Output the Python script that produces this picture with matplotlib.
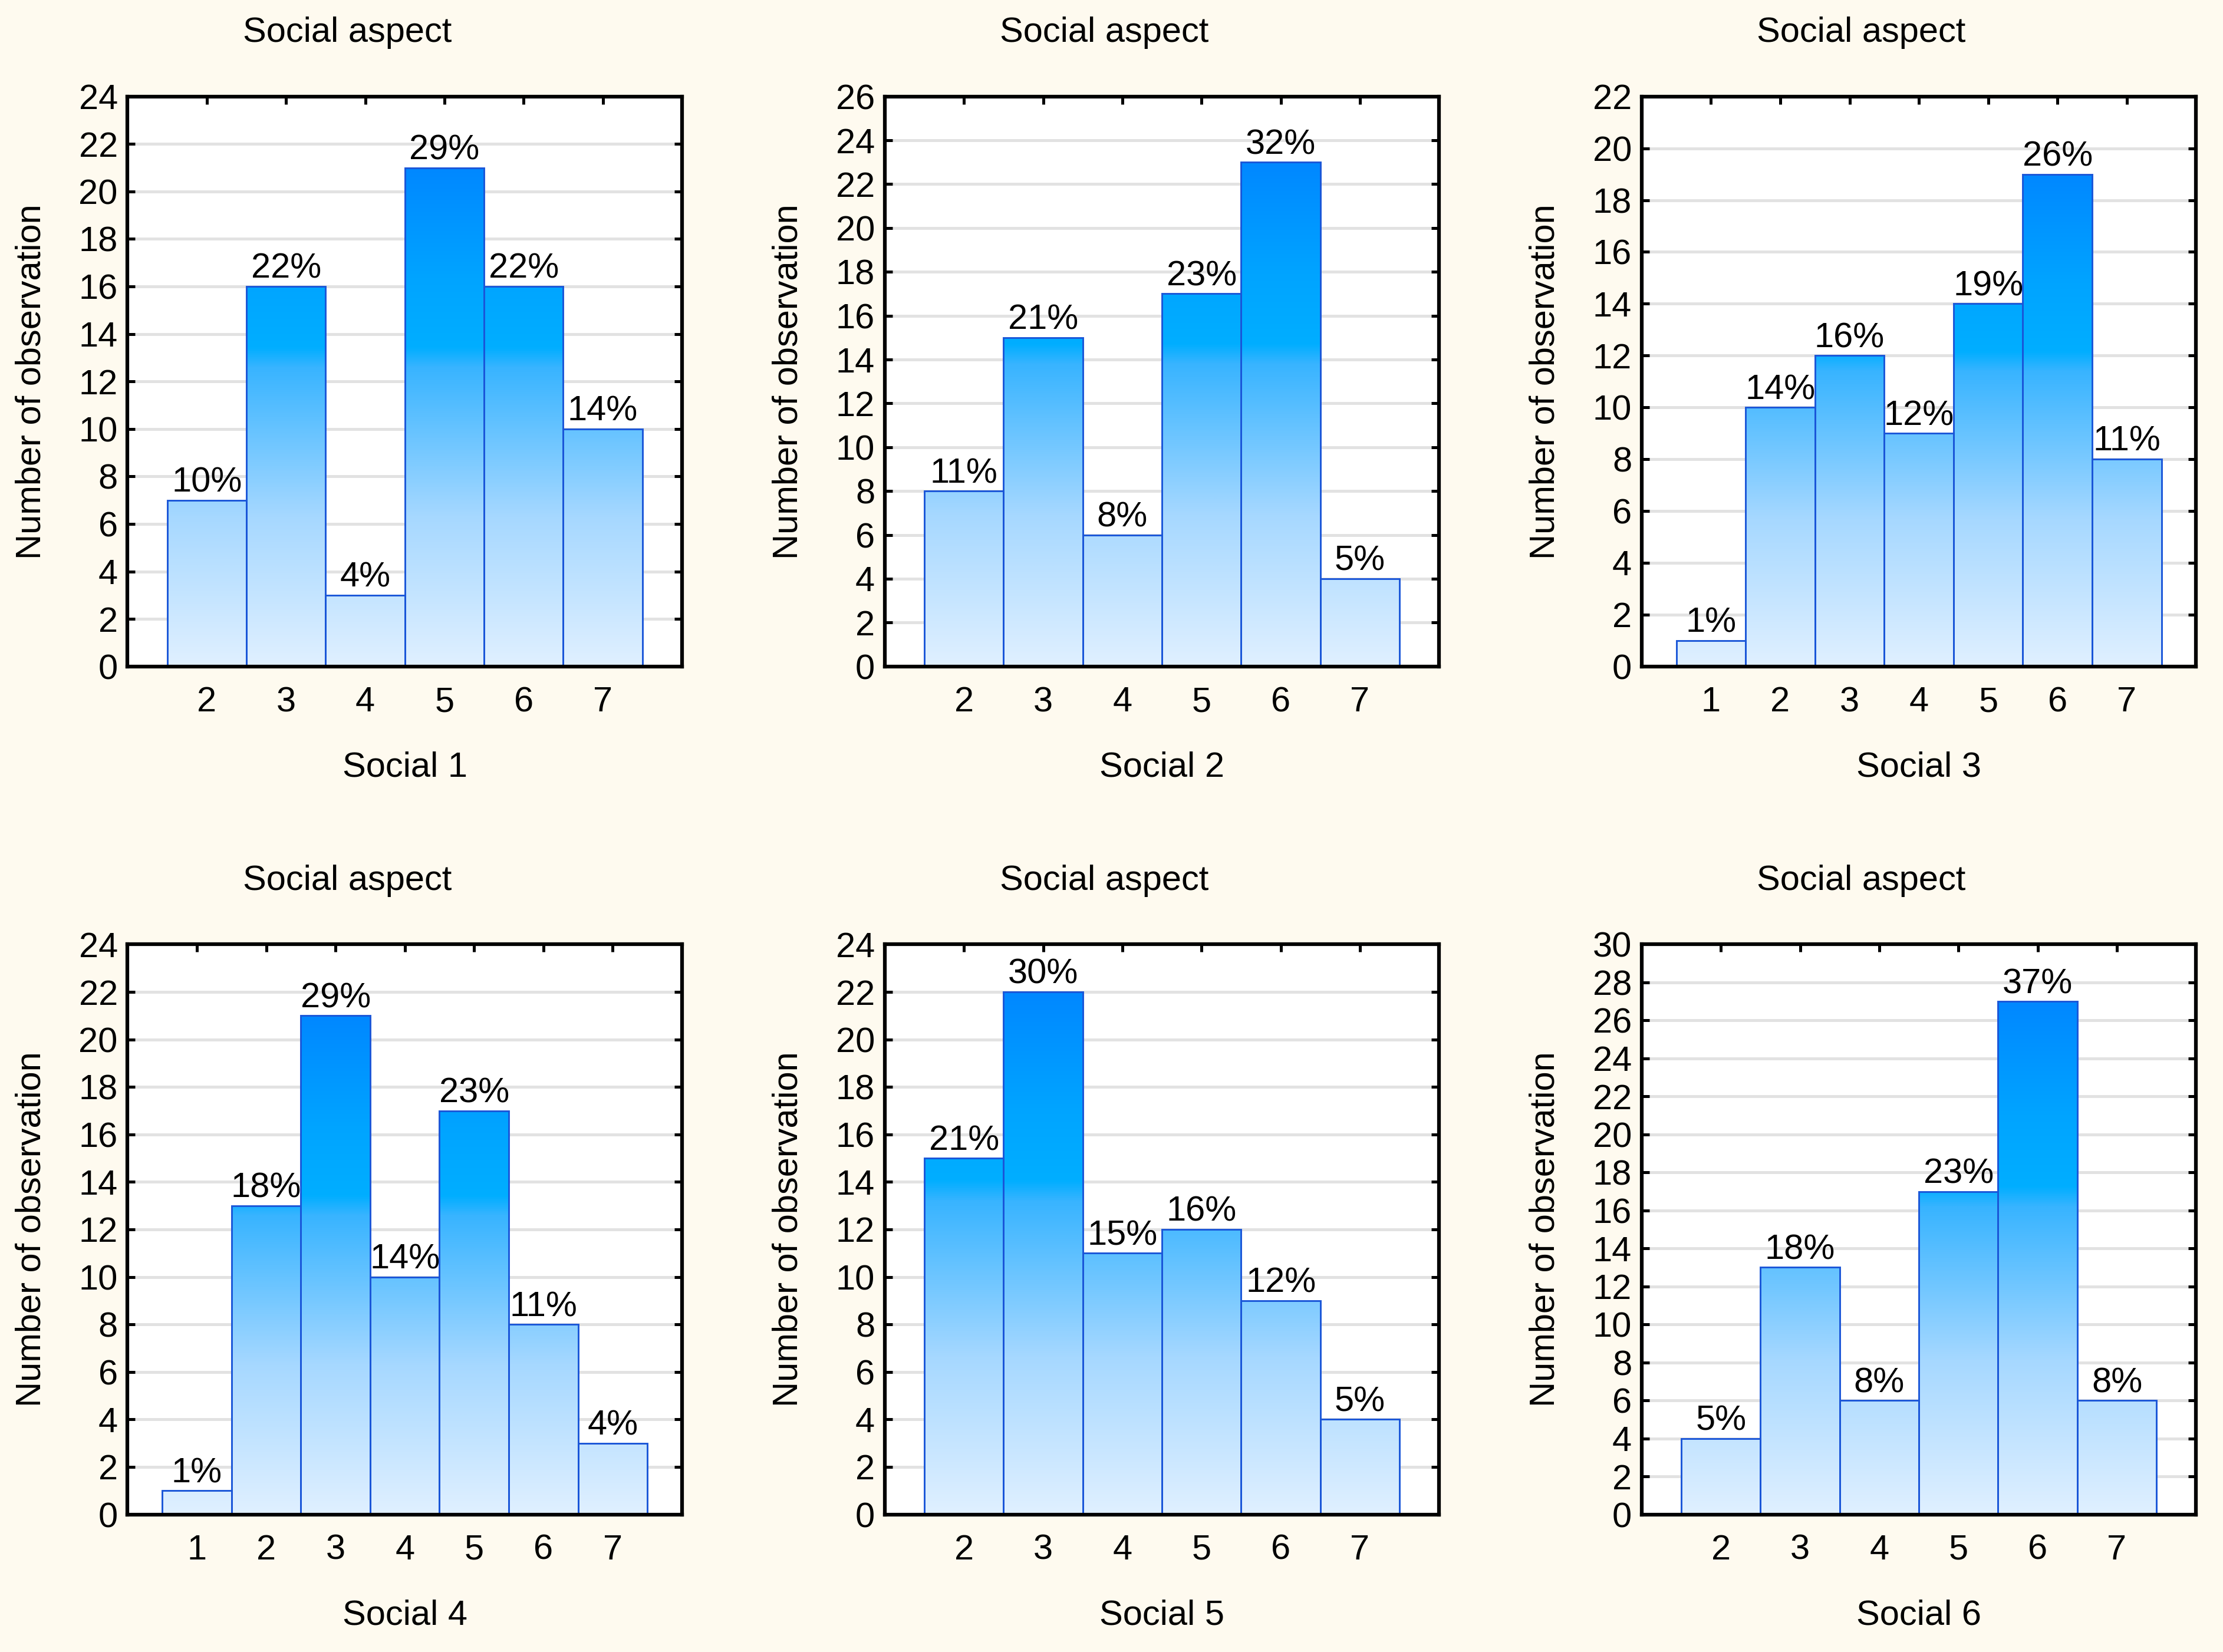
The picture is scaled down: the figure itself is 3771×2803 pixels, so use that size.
import numpy as np
import matplotlib
matplotlib.use("Agg")
import matplotlib.pyplot as plt
from matplotlib.colors import LinearSegmentedColormap

plt.rcParams['font.family'] = ['Liberation Sans', 'DejaVu Sans']

# ---- data ----
titles = ["Social aspect"] * 6
xlabels = ["Social 1", "Social 2", "Social 3", "Social 4", "Social 5", "Social 6"]
cats_1 = [2, 3, 4, 5, 6, 7]
vals_1 = [7, 16, 3, 21, 16, 10]
pct_1 = [10, 22, 4, 29, 22, 14]
cats_2 = [2, 3, 4, 5, 6, 7]
vals_2 = [8, 15, 6, 17, 23, 4]
pct_2 = [11, 21, 8, 23, 32, 5]
cats_3 = [1, 2, 3, 4, 5, 6, 7]
vals_3 = [1, 10, 12, 9, 14, 19, 8]
pct_3 = [1, 14, 16, 12, 19, 26, 11]
cats_4 = [1, 2, 3, 4, 5, 6, 7]
vals_4 = [1, 13, 21, 10, 17, 8, 3]
pct_4 = [1, 18, 29, 14, 23, 11, 4]
cats_5 = [2, 3, 4, 5, 6, 7]
vals_5 = [15, 22, 11, 12, 9, 4]
pct_5 = [21, 30, 15, 16, 12, 5]
cats_6 = [2, 3, 4, 5, 6, 7]
vals_6 = [4, 13, 6, 17, 27, 6]
pct_6 = [5, 18, 8, 23, 37, 8]
ymax_list = [24, 26, 22, 24, 24, 30]

panels = [
    (cats_1, vals_1, pct_1), (cats_2, vals_2, pct_2), (cats_3, vals_3, pct_3),
    (cats_4, vals_4, pct_4), (cats_5, vals_5, pct_5), (cats_6, vals_6, pct_6),
]

BG = '#fefaef'
cmap = LinearSegmentedColormap.from_list('grad', [
    (0.0, '#e0f0ff'), (0.3, '#a6d8ff'), (0.6, '#38b4ff'),
    (0.64, '#00aeff'), (0.78, '#00a4ff'), (1.0, '#0088ff')])
grad = np.linspace(0, 1, 512).reshape(-1, 1)

fig = plt.figure(figsize=(3771 / 300, 2803 / 300), dpi=300, facecolor=BG)
lefts = [0.0574, 0.398, 0.7385]
bottoms = [0.5966, 0.0833]
W, H = 0.2494, 0.345
FS = 14.3

for i, (cats, vals, pct) in enumerate(panels):
    r, c = divmod(i, 3)
    ax = fig.add_axes([lefts[c], bottoms[r], W, H])
    ax.set_facecolor('white')
    ax.set_axisbelow(True)
    ax.yaxis.grid(True, color='#e2e2e2', linewidth=1.2)
    bars = ax.bar(cats, vals, width=1.0, facecolor='none',
                  edgecolor='#1a56d8', linewidth=0.7, zorder=3)
    vmax = max(vals)
    for b in bars:
        x0 = b.get_x()
        im = ax.imshow(grad, origin='lower', aspect='auto', cmap=cmap,
                       extent=[x0, x0 + b.get_width(), 0, vmax], zorder=2,
                       interpolation='bilinear')
        im.set_clip_path(b)
    for cx, v, p in zip(cats, vals, pct):
        ax.annotate(f"{p}%", (cx, v), xytext=(0, 0.5), textcoords='offset points',
                    ha='center', va='bottom', fontsize=FS, zorder=4)
    ax.set_xlim(min(cats) - 1, max(cats) + 1)
    ax.set_ylim(0, ymax_list[i])
    ax.set_xticks(cats)
    ax.set_yticks(np.arange(0, ymax_list[i] + 1, 2))
    ax.tick_params(direction='in', top=True, right=True, length=3.2, width=1.2,
                   labelsize=FS, color='black')
    ax.tick_params(axis='x', pad=8)
    ax.tick_params(axis='y', pad=4)
    for s in ax.spines.values():
        s.set_linewidth(1.5)
        s.set_zorder(5)
    ax.set_xlabel(xlabels[i], fontsize=FS)
    ax.xaxis.set_label_coords(0.5, -0.177)
    ax.xaxis.label.set_va('center')
    ax.set_ylabel("Number of observation", fontsize=FS)
    ax.yaxis.set_label_coords(-0.174, 0.5)
    ax.yaxis.label.set_va('center')
    ax.text(0.396, 1.112, titles[i], transform=ax.transAxes, ha='center',
            va='center', fontsize=FS)

fig.savefig("out.png", dpi=300, facecolor=BG)
